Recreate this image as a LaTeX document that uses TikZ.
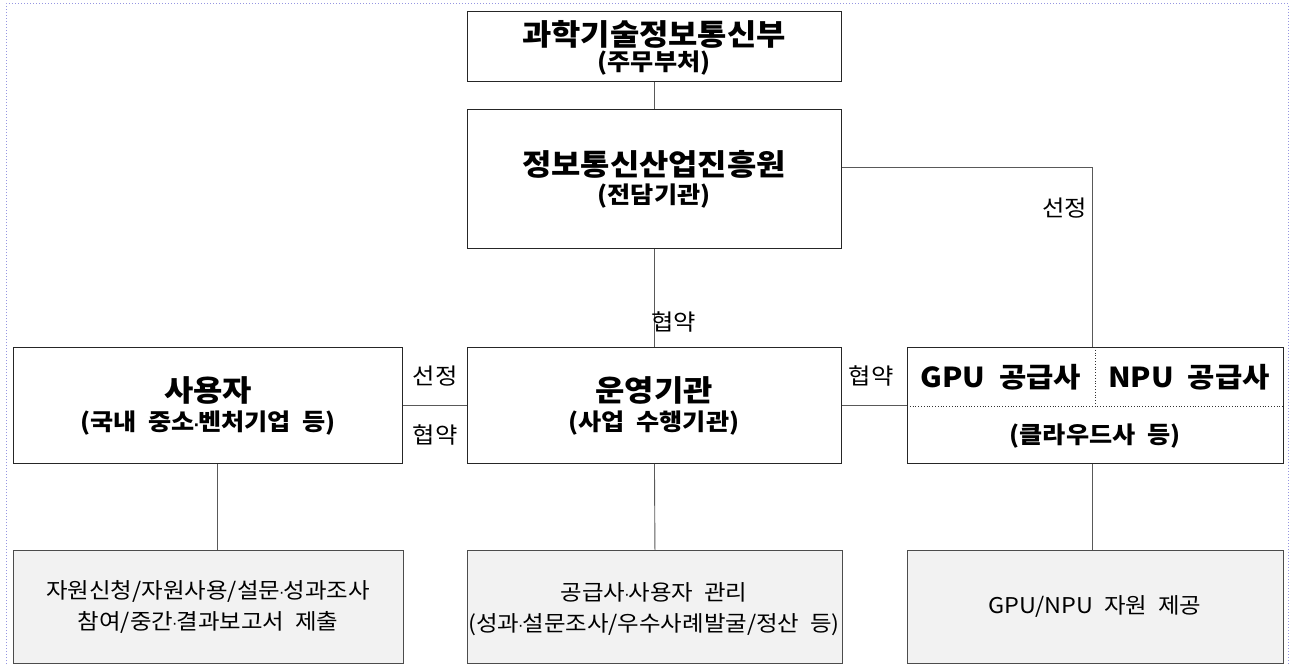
\documentclass[tikz,border=0pt]{standalone}
\usepackage{fontspec}
\setmainfont{Noto Sans CJK KR}[FakeStretch=1.08]
\newfontfamily\latdot{DejaVu Sans}
\newcommand{\ws}{\hspace{0.5em}}
\newcommand{\md}{{\latdot\fontsize{15}{15}\selectfont\hspace{-0.05em}·\hspace{-0.05em}}}
\begin{document}
\begin{tikzpicture}[x=1pt,y=-1pt,
  box/.style={draw=black!85,line width=0.9pt,minimum width=374pt,inner sep=0pt,anchor=north west},
  graybox/.style={draw=black!70,line width=0.9pt,fill=black!5,inner sep=0pt,anchor=north west},
  conn/.style={draw=black!65,line width=0.9pt},
  ttl/.style={font=\bfseries\fontsize{29.5}{34}\selectfont,inner sep=0pt},
  sub/.style={font=\bfseries\fontsize{23.3}{28}\selectfont,inner sep=0pt},
  lbl/.style={font=\fontsize{22.5}{26}\selectfont,inner sep=0pt},
  btxt/.style={font=\fontsize{21.7}{31}\selectfont,inner sep=0pt,align=center}]
\useasboundingbox (0,0) rectangle (1293,666);
% outer frame
\draw[draw={rgb,255:red,150;green,150;blue,225},line width=1pt,dotted] (6,700) -- (6,4) -- (1288,4) -- (1288,700);
% boxes
\node[box,minimum height=70pt] (mst) at (467,11) {};
\node[box,minimum height=139pt] (nipa) at (467,109) {};
\node[box,minimum height=116pt] (op) at (467,347) {};
\node[box,minimum width=389pt,minimum height=116pt] (user) at (13,347) {};
\node[box,minimum width=376pt,minimum height=116pt] (sup) at (907,347) {};
\node[graybox,minimum width=390pt,minimum height=113pt] (ubot) at (13,550) {};
\node[graybox,minimum width=375pt,minimum height=113pt] (obot) at (467,550) {};
\node[graybox,minimum width=376pt,minimum height=113pt] (sbot) at (907,550) {};
% supplier box inner dotted lines
\coordinate (dv) at (1095,406);
\draw[black!80,line width=0.8pt,dotted] (sup.west |- dv) -- (sup.east |- dv);
\draw[black!80,line width=0.8pt,dotted] (dv |- sup.north) -- (dv);
% texts
\node[ttl] (t1) at (654,34) {과학기술정보통신부};
\node[sub] (t1s) at (654,63) {(주무부처)};
\node[ttl] (t2) at (654,164) {정보통신산업진흥원};
\node[sub] (t2s) at (654,196) {(전담기관)};
\node[ttl] (t3) at (654,390) {운영기관};
\node[sub] (t3s) at (654,423) {(사업\ws 수행기관)};
\node[ttl] (t4) at (208,390) {사용자};
\node[sub] (t4s) at (208,423) {(국내\ws 중소\md 벤처기업\ws 등)};
\node[ttl,font=\bfseries\fontsize{27.5}{30}\selectfont] (g1) at (1001,377) {GPU\ws 공급사};
\node[ttl,font=\bfseries\fontsize{27.5}{30}\selectfont] (g2) at (1189,377) {NPU\ws 공급사};
\node[sub] (g3) at (1095,436) {(클라우드사\ws 등)};
\node[btxt] (b1) at (208,607) {자원신청/자원사용/설문\md 성과조사\\참여/중간\md 결과보고서\ws 제출};
\node[btxt] (b2) at (654,609) {공급사\md 사용자\ws 관리\\(성과\md 설문조사/우수사례발굴/정산\ws 등)};
\node[btxt] (b3) at (1095,606) {GPU/NPU\ws 자원\ws 제공};
% connectors
\coordinate (sx) at (1092,167);
\coordinate (ux) at (217,0);
\draw[conn] (mst.south) -- (nipa.north);
\draw[conn] (nipa.south) -- (op.north);
\draw[conn] (user.east) -- (op.west);
\draw[conn] (op.east) -- (sup.west |- op.east);
\draw[conn] (nipa.east |- sx) -- (sx) -- (sx |- sup.north);
\draw[conn] (ux |- user.south) -- (ux |- ubot.north);
\draw[conn] (op.south) -- (obot.north);
\draw[conn] (sup.south -| sx) -- (sbot.north -| sx);
% connector labels
\node[lbl,anchor=west] (l1) at (651,322) {협약};
\node[lbl] (l2) at (435,376) {선정};
\node[lbl] (l3) at (435,435) {협약};
\node[lbl] (l4) at (871,376) {협약};
\node[lbl,anchor=east] (l5) at (1087,208) {선정};
\end{tikzpicture}
\end{document}
